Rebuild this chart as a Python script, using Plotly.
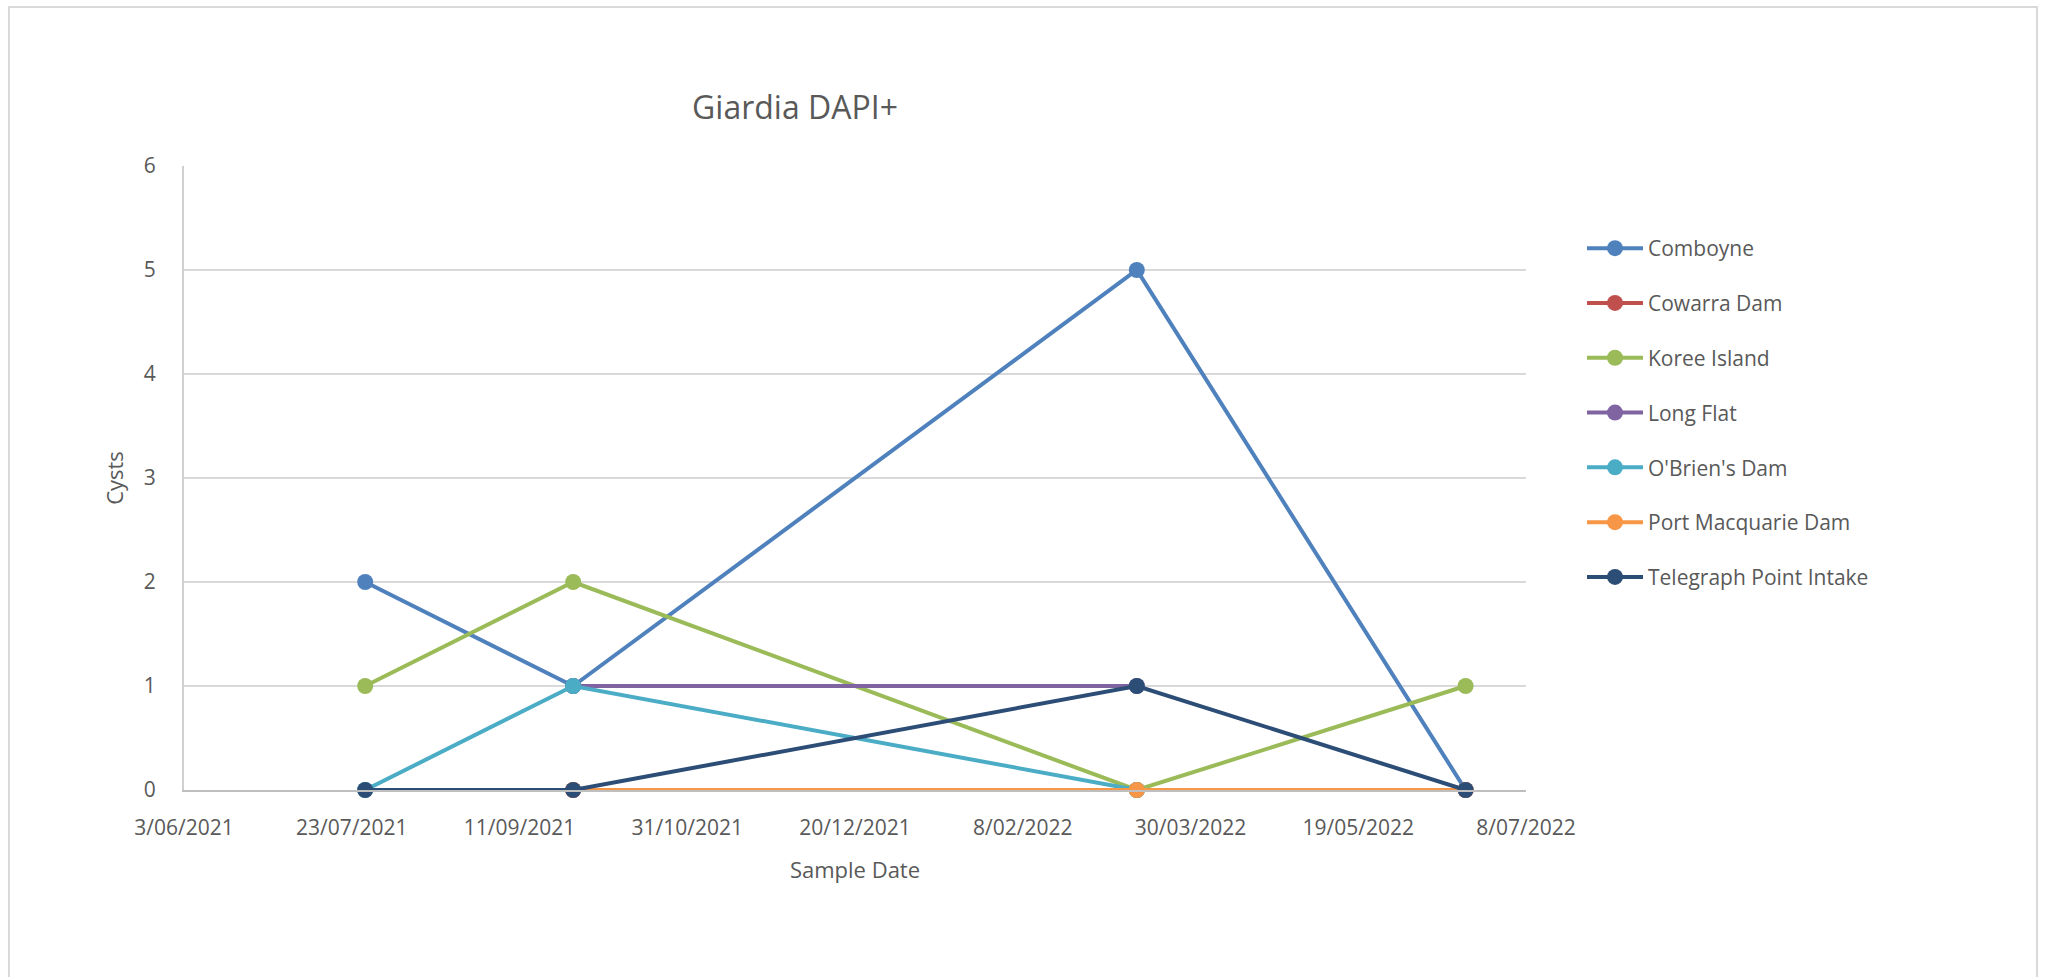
import pandas as pd
import plotly.graph_objects as go

# Sample dates and cyst counts per site
sample_dates = ["2021-07-27", "2021-09-27", "2022-03-14", "2022-06-20"]
comboyne = [2, 1, 5, 0]
cowarra_dam = [None, 0, 0, 0]
koree_island = [1, 2, 0, 1]
long_flat = [None, 1, 1, None]
obriens_dam = [0, 1, 0, None]
port_macquarie_dam = [None, 0, 0, 0]
telegraph_point = [0, 0, 1, 0]

series_names = ["Comboyne", "Cowarra Dam", "Koree Island", "Long Flat",
                "O'Brien's Dam", "Port Macquarie Dam", "Telegraph Point Intake"]
series_values = [comboyne, cowarra_dam, koree_island, long_flat,
                 obriens_dam, port_macquarie_dam, telegraph_point]
series_colors = ["#4F81BD", "#C0504D", "#9BBB59", "#8064A2",
                 "#4BACC6", "#F79646", "#2C4D75"]

# Date axis tick labels (every 50 days)
x_tick_labels = ["3/06/2021", "23/07/2021", "11/09/2021", "31/10/2021", "20/12/2021",
                 "8/02/2022", "30/03/2022", "19/05/2022", "8/07/2022"]
y_tick_values = [0, 1, 2, 3, 4, 5, 6]

x_tick_dates = pd.to_datetime(x_tick_labels, format="%d/%m/%Y")

W, H = 2047, 977
L, R, T, B = 184, 1526, 166, 790  # plot area in pixels
pw, ph = R - L, B - T

FONT = "Open Sans"
GREY_TXT = "#595959"

fig = go.Figure()
for name, vals, col in zip(series_names, series_values, series_colors):
    fig.add_trace(go.Scatter(
        x=pd.to_datetime(sample_dates), y=vals, name=name,
        mode="lines+markers", legendgroup=name, cliponaxis=False,
        line=dict(color=col, width=4),
        marker=dict(color=col, size=16),
    ))

# outer chart frame
fig.add_shape(type="rect", xref="paper", yref="paper",
              x0=(9 - L) / pw, x1=(2037 - L) / pw,
              y0=(B - 1000) / ph, y1=(B - 7) / ph,
              line=dict(color="#D9D9D9", width=2), fillcolor="rgba(0,0,0,0)",
              layer="below")

fig.update_layout(
    width=W, height=H,
    margin=dict(l=L, r=W - R, t=T, b=H - B, pad=0),
    paper_bgcolor="white", plot_bgcolor="white",
    font=dict(family=FONT, color=GREY_TXT, size=21),
    title=dict(text="Giardia DAPI+", font=dict(family=FONT, size=32, color=GREY_TXT),
               xref="paper", x=(795 - L) / pw, xanchor="center",
               yref="container", y=1 - 108 / H, yanchor="middle"),
    xaxis=dict(
        range=[x_tick_dates[0], x_tick_dates[-1]],
        tickvals=x_tick_dates, ticktext=x_tick_labels,
        showgrid=False, zeroline=False,
        showline=True, linecolor="#BFBFBF", linewidth=2,
        ticks="", ticklabelstandoff=18,
        tickfont=dict(size=21, color=GREY_TXT),
        title=dict(text="Sample Date", font=dict(size=22, color=GREY_TXT), standoff=22),
    ),
    yaxis=dict(
        range=[0, 6], tickvals=y_tick_values,
        showgrid=True, gridcolor="#D9D9D9", gridwidth=2,
        zeroline=False,
        showline=True, linecolor="#D0D0D0", linewidth=2,
        ticks="", ticklabelstandoff=22,
        tickfont=dict(size=21, color=GREY_TXT),
        title=dict(text="Cysts", font=dict(size=22, color=GREY_TXT), standoff=14),
    ),
    legend=dict(
        x=(1582 - L) / pw, xanchor="left",
        y=(B - 228) / ph, yanchor="top",
        font=dict(size=21, color=GREY_TXT, family=FONT),
        tracegroupgap=24.5, itemwidth=56,
        bgcolor="rgba(0,0,0,0)",
    ),
    showlegend=True,
)

fig.write_html("out.html")
